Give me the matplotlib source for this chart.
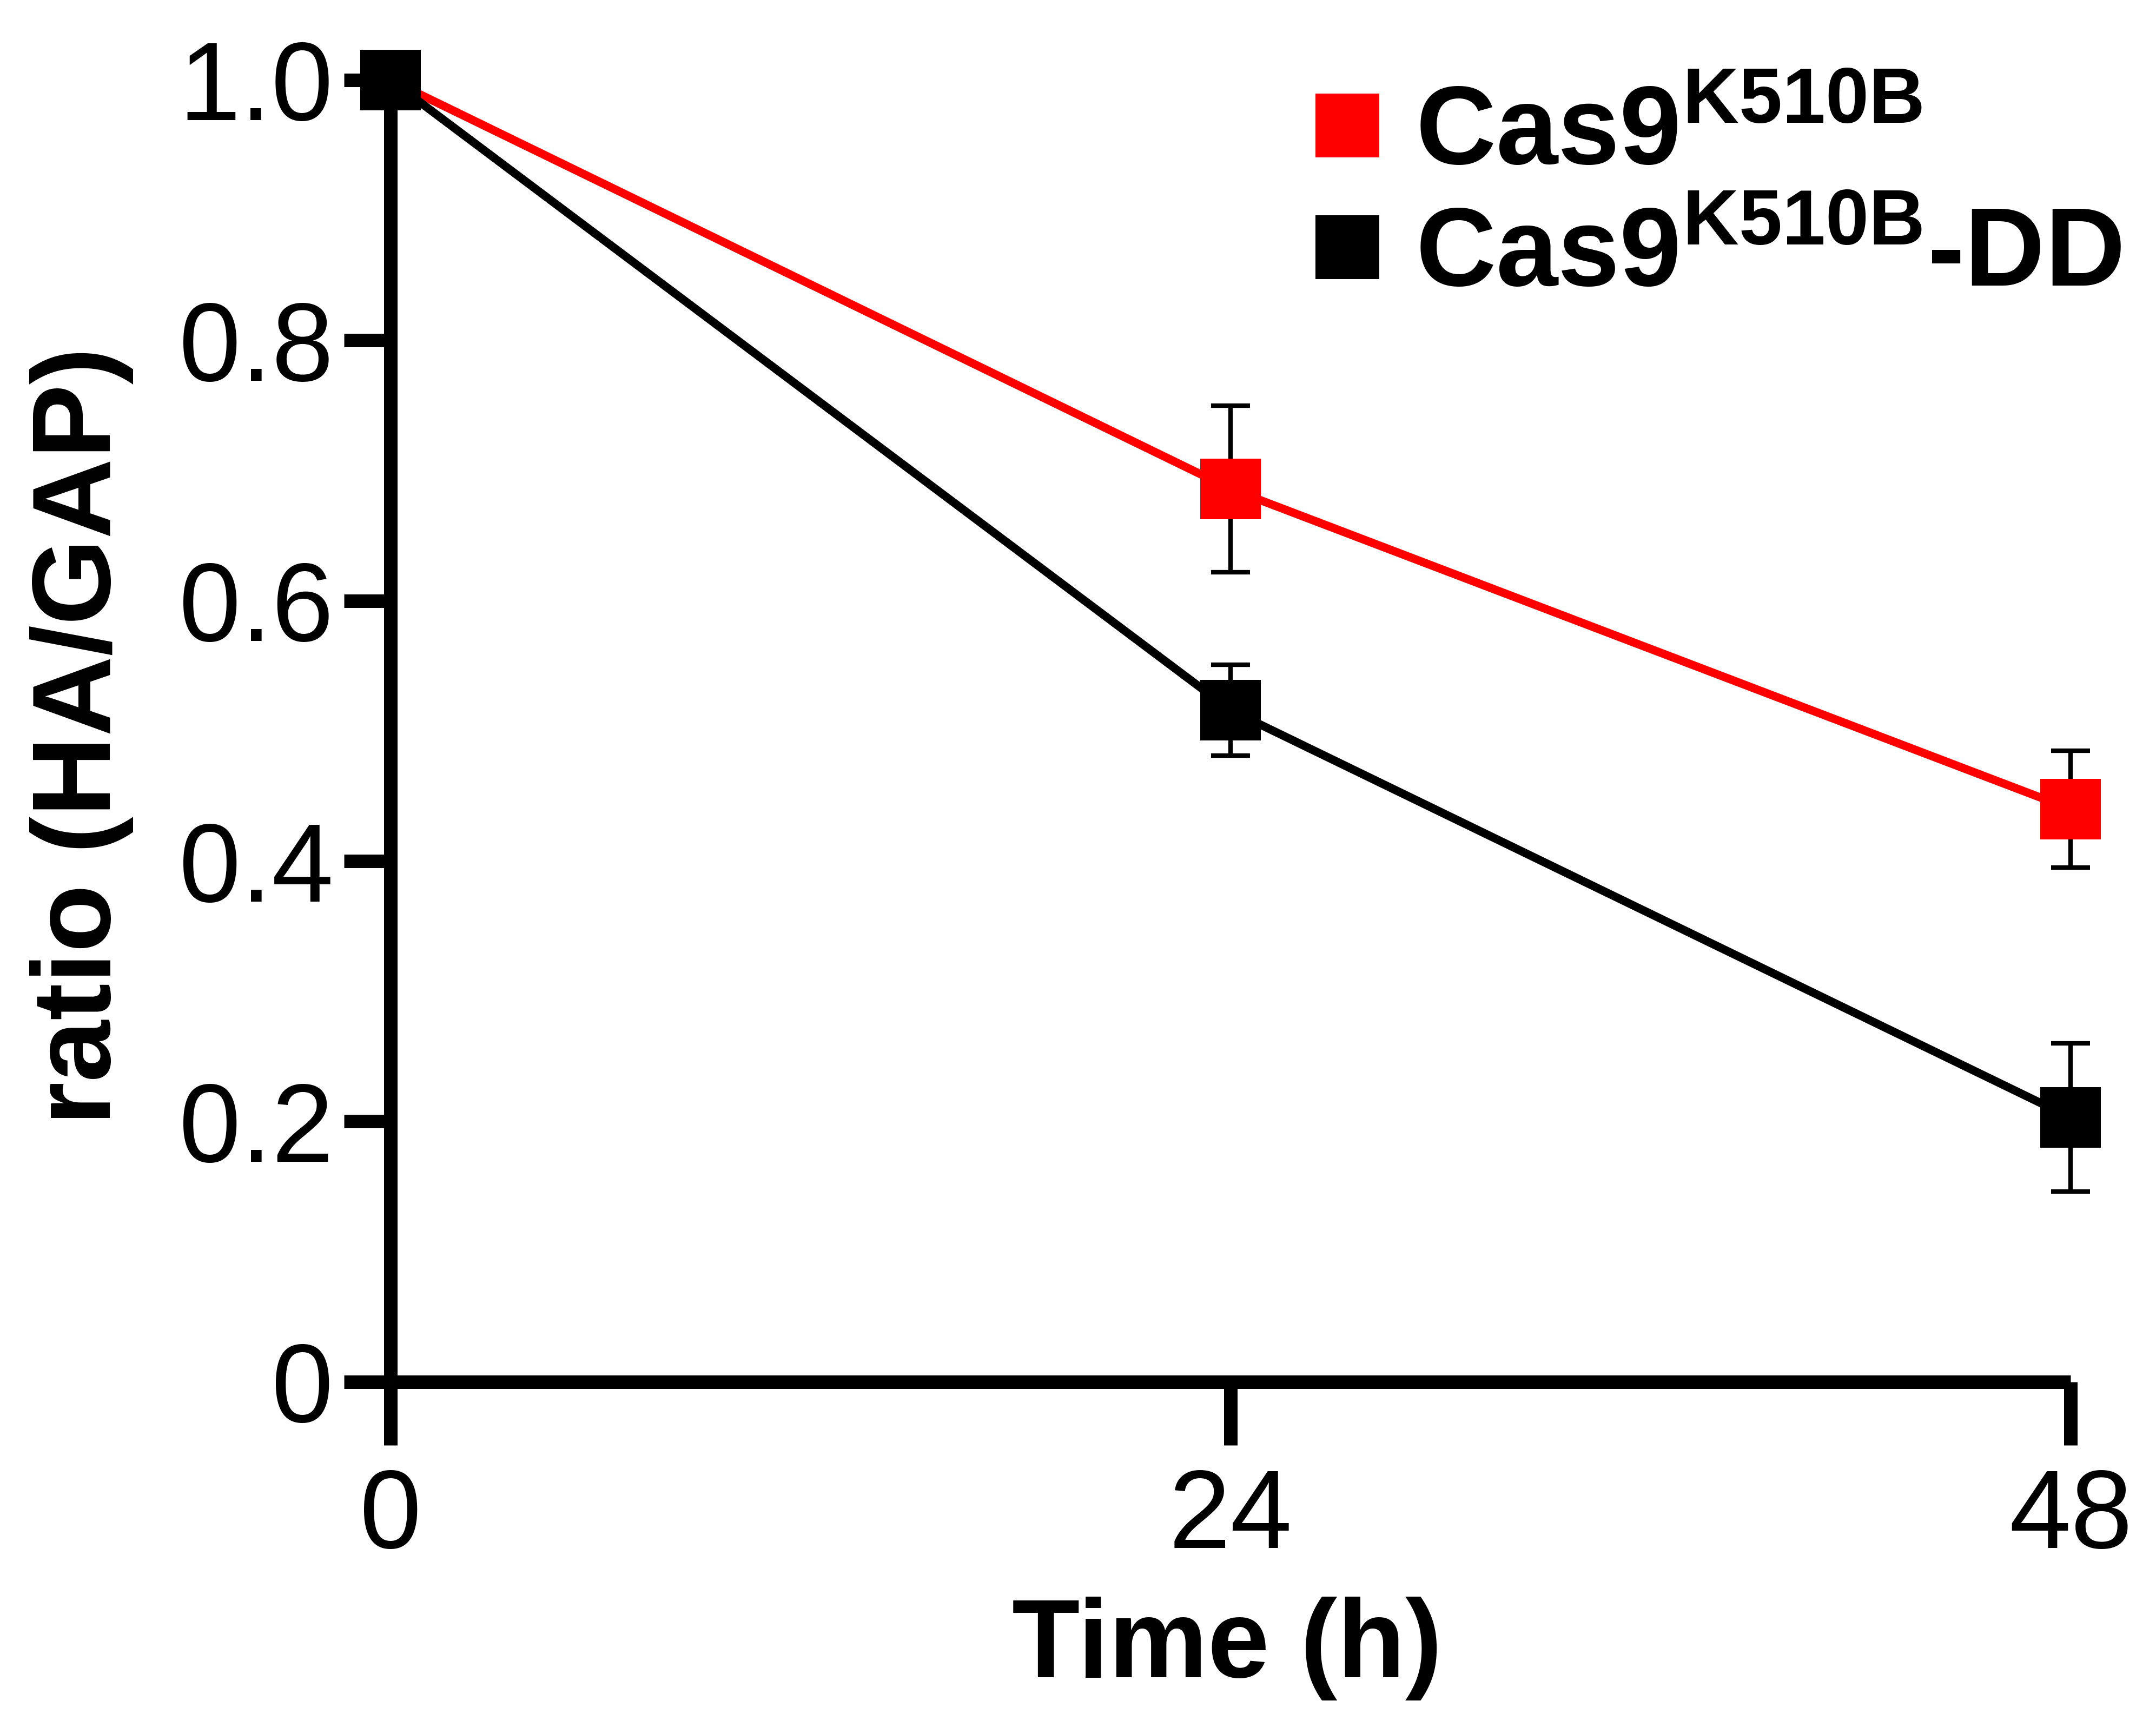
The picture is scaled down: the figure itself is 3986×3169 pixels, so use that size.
import matplotlib
matplotlib.use("Agg")
import matplotlib.pyplot as plt
from matplotlib.lines import Line2D

plt.rcParams["font.family"] = ["Liberation Sans", "DejaVu Sans"]
plt.rcParams["mathtext.fontset"] = "custom"
plt.rcParams["mathtext.rm"] = "Liberation Sans"
plt.rcParams["mathtext.bf"] = "Liberation Sans:bold"

# time points (h)
time_h = [0, 24, 48]
# Cas9 K510B (red)
ratio_k510b = [1.0, 0.686, 0.440]
sem_k510b = [0.0, 0.064, 0.045]
# Cas9 K510B-DD (black)
ratio_dd = [1.0, 0.516, 0.203]
sem_dd = [0.0, 0.035, 0.057]

series_labels = [r"$\mathbf{Cas9^{K510B}}$", r"$\mathbf{Cas9^{K510B}}$-DD"]
xticks = [0, 24, 48]
yticks = [0, 0.2, 0.4, 0.6, 0.8, 1.0]
ytick_labels = ["0", "0.2", "0.4", "0.6", "0.8", "1.0"]

FS = 148
LW_AX = 18

fig = plt.figure(figsize=(39.86, 31.69), dpi=100)
ax = fig.add_axes([0.1811, 0.1938, 0.9604 - 0.1811, 0.9533 - 0.1938])

# error bars first so the squares sit on top of the stems
for y, e in [(ratio_k510b, sem_k510b), (ratio_dd, sem_dd)]:
    ax.errorbar(time_h, y, yerr=e, fmt="none", ecolor="black", elinewidth=6,
                capsize=26, capthick=6, clip_on=False, zorder=3)

ax.plot(time_h, ratio_k510b, color="#ff0000", lw=11, marker="s", ms=81,
        mew=0, clip_on=False, zorder=4)
ax.plot(time_h, ratio_dd, color="black", lw=11, marker="s", ms=81,
        mew=0, clip_on=False, zorder=5)

ax.set_xlim(0, 48)
ax.set_ylim(0, 1.0)
ax.set_xticks(xticks)
ax.set_yticks(yticks)
ax.set_yticklabels(ytick_labels)

for s in ["top", "right"]:
    ax.spines[s].set_visible(False)
for s in ["left", "bottom"]:
    ax.spines[s].set_linewidth(LW_AX)
    ax.spines[s].set_capstyle("butt")

ax.tick_params(axis="x", direction="out", length=84, width=LW_AX, pad=30, labelsize=FS)
ax.tick_params(axis="y", direction="out", length=62, width=LW_AX, pad=14, labelsize=FS)

ax.set_xlabel("Time (h)", fontsize=FS, fontweight="bold")
ax.set_ylabel("ratio (HA/GAP)", fontsize=FS, fontweight="bold")
ax.xaxis.set_label_coords(0.498, -0.165)
ax.yaxis.set_label_coords(-0.153, 0.496)

handles = [
    Line2D([], [], ls="none", marker="s", ms=85, mew=0, color="#ff0000"),
    Line2D([], [], ls="none", marker="s", ms=85, mew=0, color="black"),
]
fig.legend(handles, series_labels, loc="upper left",
           bbox_to_anchor=(0.6095, 0.951), frameon=False,
           prop={"size": FS, "weight": "bold"},
           handlelength=0.6, handletextpad=0.31, labelspacing=0.16,
           borderpad=0, borderaxespad=0)

fig.savefig("out.png", dpi=100, facecolor="white")
